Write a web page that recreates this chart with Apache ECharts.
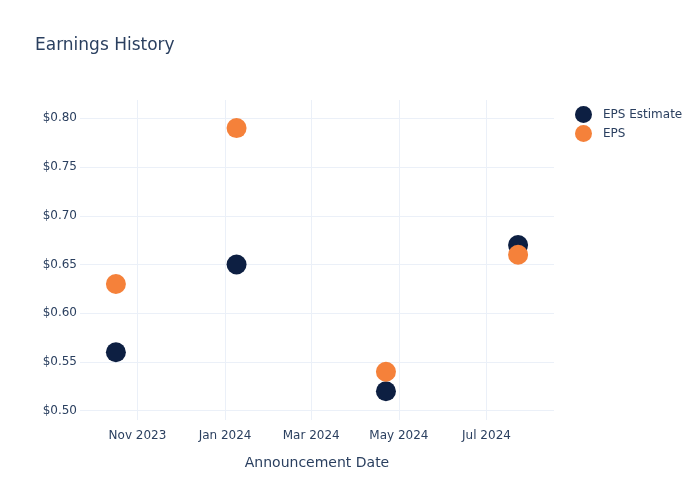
<!DOCTYPE html>
<html>
<head>
<meta charset="utf-8">
<script src="https://cdn.jsdelivr.net/npm/echarts@6/dist/echarts.min.js"></script>
<style>html,body{margin:0;padding:0;background:#fff}#c{width:700px;height:500px}</style>
</head>
<body>
<div id="c"></div>
<script>
const dates = ['2023-10-17', '2024-01-09', '2024-04-22', '2024-07-23'];
const epsEstimate = [0.56, 0.65, 0.52, 0.67];
const eps = [0.63, 0.79, 0.54, 0.66];
const xTicks = ['2023-11-01', '2024-01-01', '2024-03-01', '2024-05-01', '2024-07-01'];
const yTicks = [0.50, 0.55, 0.60, 0.65, 0.70, 0.75, 0.80];
const monthNames = ['Jan','Feb','Mar','Apr','May','Jun','Jul','Aug','Sep','Oct','Nov','Dec'];

const ts = s => { const p = s.split('-'); return Date.UTC(+p[0], +p[1]-1, +p[2]); };
const txt = '#2a3f5f';
const font = 'DejaVu Sans';
const chart = echarts.init(document.getElementById('c'), null, {renderer: 'canvas'});
chart.setOption({
  animation: false,
  textStyle: {fontFamily: font, color: txt},
  title: {text: 'Earnings History', left: 30, top: 32, textStyle: {fontFamily: font, fontSize: 17, fontWeight: 'normal', color: txt}},
  legend: {
    orient: 'vertical', left: 570, top: 101, icon: 'circle', itemWidth: 17, itemHeight: 17, itemGap: 2,
    textStyle: {fontFamily: font, fontSize: 12, color: txt, padding: [0, 0, 0, 6]},
    data: ['EPS Estimate', 'EPS']
  },
  grid: {left: 80, right: 146, top: 100, bottom: 80, containLabel: false},
  xAxis: {
    type: 'value',
    min: ts('2023-09-22'), max: ts('2024-08-17'),
    name: 'Announcement Date', nameLocation: 'middle', nameGap: 36,
    nameTextStyle: {fontFamily: font, fontSize: 14, color: txt},
    axisLine: {show: false}, axisTick: {show: false, customValues: xTicks.map(ts)},
    axisLabel: {
      customValues: xTicks.map(ts), fontFamily: font, fontSize: 12, color: txt, margin: 10, hideOverlap: false,
      formatter: v => { const d = new Date(v); return monthNames[d.getUTCMonth()] + ' ' + d.getUTCFullYear(); }
    },
    splitLine: {show: true, lineStyle: {color: '#ebf0f8', width: 1}}
  },
  yAxis: {
    type: 'value', min: 0.4905, max: 0.8188,
    axisLine: {show: false}, axisTick: {show: false, customValues: yTicks},
    axisLabel: {customValues: yTicks, fontFamily: font, fontSize: 12, color: txt, margin: 3, formatter: v => '$' + v.toFixed(2)},
    splitLine: {show: true, lineStyle: {color: '#ebf0f8', width: 1}}
  },
  series: [
    {name: 'EPS Estimate', type: 'scatter', symbolSize: 20, itemStyle: {color: '#0d1f42', opacity: 1},
     data: dates.map((d, i) => [ts(d), epsEstimate[i]])},
    {name: 'EPS', type: 'scatter', symbolSize: 20, itemStyle: {color: '#f5813a', opacity: 1},
     data: dates.map((d, i) => [ts(d), eps[i]])}
  ]
});
</script>
</body>
</html>
